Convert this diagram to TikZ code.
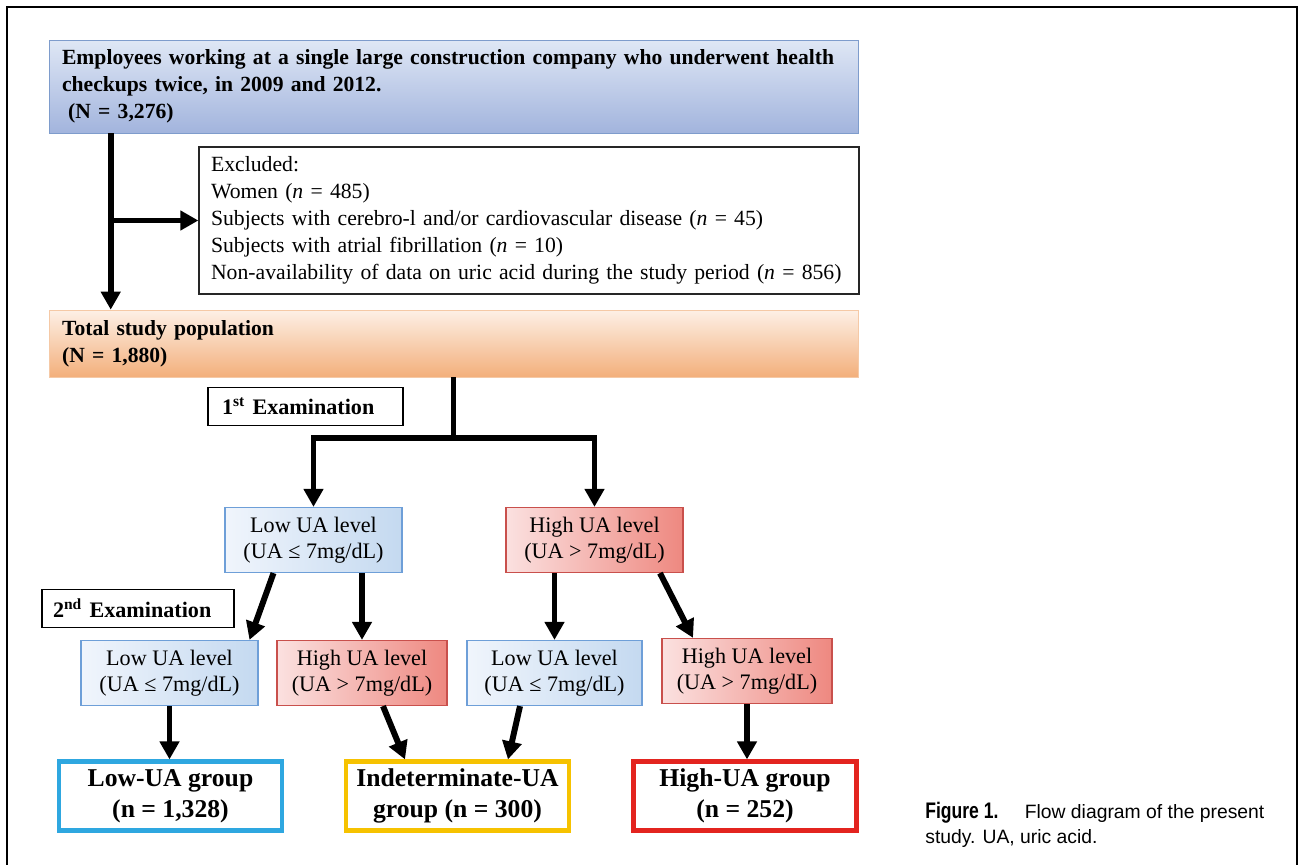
\documentclass[tikz,border=0pt]{standalone}
\usepackage{fontspec}
\setmainfont{Liberation Serif}
\newfontfamily\capfont{Liberation Sans}
\usepackage{tikz}
\usetikzlibrary{arrows.meta}

\definecolor{topup}{HTML}{DFE7F5}
\definecolor{topdown}{HTML}{A2B4DD}
\definecolor{topedge}{HTML}{7E9CCC}
\definecolor{totalup}{HTML}{FDF0E6}
\definecolor{totaldown}{HTML}{F3AF7B}
\definecolor{totaledge}{HTML}{F5C9A6}
\definecolor{lowleft}{HTML}{F0F5FC}
\definecolor{lowright}{HTML}{C4D9F0}
\definecolor{lowedge}{HTML}{6E9FD8}
\definecolor{highleft}{HTML}{FBE1E0}
\definecolor{highright}{HTML}{EE8880}
\definecolor{highedge}{HTML}{C9504C}
\definecolor{lowgrp}{HTML}{2EA7E0}
\definecolor{midgrp}{HTML}{F6C200}
\definecolor{highgrp}{HTML}{E3241F}

\tikzstyle{box} = [rectangle, draw=black, inner sep=0pt, align=center]
\tikzstyle{widebox} = [box, minimum width=16.18cm, text width=15.66cm, align=left, font=\bfseries\fontsize{12.3}{15.3}\selectfont]
\tikzstyle{exambox} = [box, line width=1.1pt, minimum height=0.76cm, align=left, font=\bfseries\fontsize{12.6}{15.3}\selectfont]
\tikzstyle{uabox} = [box, minimum height=1.3cm, line width=0.7pt, font=\fontsize{12.6}{14.7}\selectfont]
\tikzstyle{lowbox} = [uabox, draw=lowedge, left color=lowleft, right color=lowright]
\tikzstyle{highbox} = [uabox, draw=highedge, left color=highleft, right color=highright]
\tikzstyle{groupbox} = [box, line width=2.4pt, minimum width=4.46cm, minimum height=1.38cm, font=\bfseries\fontsize{14.6}{17.6}\selectfont]
\tikzstyle{arrow} = [line width=3.4pt, -{Triangle[length=0.36cm, width=0.38cm]}]
\tikzstyle{flow} = [line width=3.4pt]

\begin{document}
\begin{tikzpicture}[x=0.02cm, y=-0.02cm]
        \useasboundingbox (0,0) rectangle (1298,865);
        \draw [line width=1.4pt] (7,865) -- (7,7) -- (1297,7) -- (1297,865);

        \node (employees) [widebox, draw=topedge, top color=topup, bottom color=topdown, minimum height=1.86cm] at (453.5,86.5) {Employees working at a single large construction company who underwent health\\checkups twice, in 2009 and 2012.\\\hspace*{3.5pt}(N = 3,276)};
        \node (excluded) [box, line width=0.8pt, draw=black!85, minimum width=13.2cm, minimum height=2.94cm, text width=12.72cm, align=left, font=\fontsize{12.35}{15.3}\selectfont] at (529,220.5) {Excluded:\\Women (\textit{n} = 485)\\Subjects with cerebro-l and/or cardiovascular disease (\textit{n} = 45)\\Subjects with atrial fibrillation (\textit{n} = 10)\\Non-availability of data on uric acid during the study period (\textit{n} = 856)};
        \node (total) [widebox, draw=totaledge, top color=totalup, bottom color=totaldown, minimum height=1.34cm] at (453.5,343.5) {Total study population\\(N = 1,880)};

        \node (exam1) [exambox, minimum width=3.9cm, text width=3.34cm] at (305.5,406.5) {1\textsuperscript{st} Examination};
        \node (low1) [lowbox, minimum width=3.54cm] at (313.5,540) {Low UA level\\(UA ≤ 7mg/dL)};
        \node (high1) [highbox, minimum width=3.54cm] at (594.5,540) {High UA level\\(UA > 7mg/dL)};

        \node (exam2) [exambox, minimum width=3.84cm, text width=3.4cm] at (138,608.5) {2\textsuperscript{nd} Examination};
        \node (low2a) [lowbox, minimum width=3.54cm] at (169.5,673) {Low UA level\\(UA ≤ 7mg/dL)};
        \node (high2a) [highbox, minimum width=3.4cm] at (362,673) {High UA level\\(UA > 7mg/dL)};
        \node (low2b) [lowbox, minimum width=3.5cm] at (554.5,673) {Low UA level\\(UA ≤ 7mg/dL)};
        \node (high2b) [highbox, minimum width=3.4cm] at (747,671) {High UA level\\(UA > 7mg/dL)};

        \node (lowgroup) [groupbox, draw=lowgrp] at (170.5,796) {Low-UA group\\(n = 1,328)};
        \node (midgroup) [groupbox, draw=midgrp] at (457.5,796) {Indeterminate-UA\\group (n = 300)};
        \node (highgroup) [groupbox, draw=highgrp] at (745,796) {High-UA group\\(n = 252)};

        \node (caption) [anchor=north west, inner sep=0pt, align=left, font=\capfont\fontsize{11}{14.2}\selectfont] at (925,802) {\scalebox{0.78}[1]{\fontsize{12.8}{14.2}\selectfont\bfseries Figure 1.}\hspace{15pt}Flow diagram of the present\\study. UA, uric acid.};

        \coordinate (trunk) at ([xshift=1.24cm]employees.south west);
        \draw [arrow] (trunk) -- (trunk |- total.north);
        \draw [arrow] (trunk |- excluded.west) -- (excluded.west);
        \coordinate (split) at ([yshift=-1.22cm]total.south);
        \draw [flow] (total.south) -- (split);
        \draw [arrow] (split) -| (low1.north);
        \draw [arrow] (split) -| (high1.north);

        \draw [arrow] ([xshift=-0.8cm]low1.south) -- ([xshift=1.6cm]low2a.north);
        \draw [arrow] (high2a.north |- low1.south) -- (high2a.north);
        \draw [arrow] (low2b.north |- high1.south) -- (low2b.north);
        \draw [arrow] ([xshift=1.31cm]high1.south) -- ([xshift=-1.08cm]high2b.north);

        \draw [arrow] (low2a.south) -- (low2a.south |- lowgroup.north);
        \draw [arrow] ([xshift=0.42cm]high2a.south) -- ([xshift=-1.05cm]midgroup.north);
        \draw [arrow] ([xshift=-0.69cm]low2b.south) -- ([xshift=1.01cm]midgroup.north);
        \draw [arrow] (high2b.south) -- (high2b.south |- highgroup.north);
    \end{tikzpicture}
\end{document}
